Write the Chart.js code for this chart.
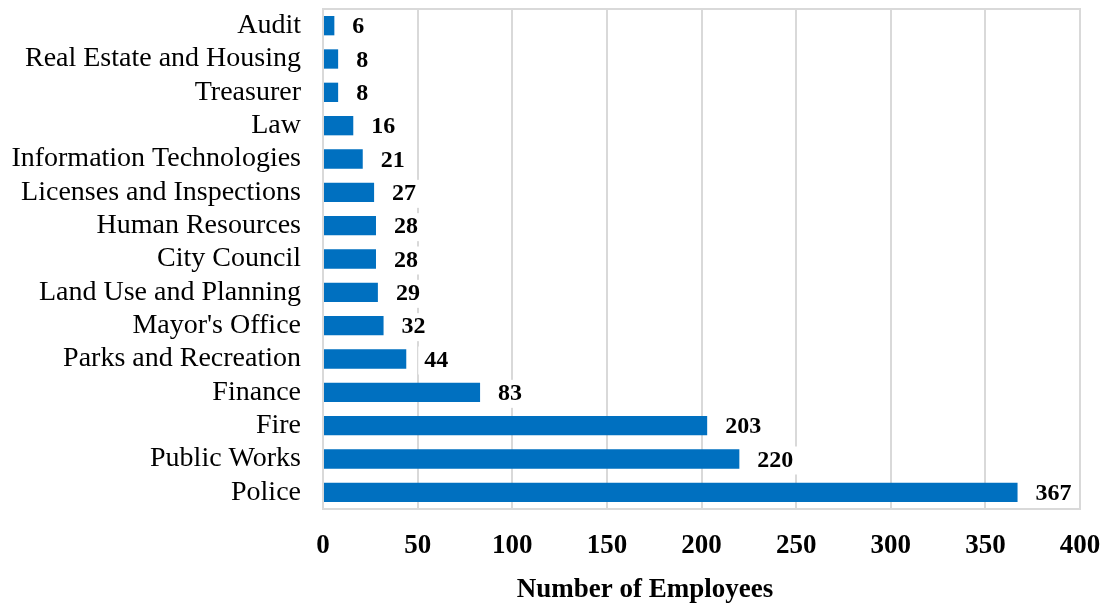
<!DOCTYPE html>
<html>
<head>
<meta charset="utf-8">
<script src="https://cdn.jsdelivr.net/npm/chart.js@4.4.0/dist/chart.umd.min.js"></script>
<style>
  html, body { margin: 0; padding: 0; background: #fff; }
  #wrap { width: 1108px; height: 604px; }
</style>
</head>
<body>
<div id="wrap"><canvas id="chart"></canvas></div>
<script>
const departments = [
  'Audit', 'Real Estate and Housing', 'Treasurer', 'Law', 'Information Technologies',
  'Licenses and Inspections', 'Human Resources', 'City Council', 'Land Use and Planning',
  "Mayor's Office", 'Parks and Recreation', 'Finance', 'Fire', 'Public Works', 'Police'
];
const employees = [6, 8, 8, 16, 21, 27, 28, 28, 29, 32, 44, 83, 203, 220, 367];
const xTicks = [0, 50, 100, 150, 200, 250, 300, 350, 400];
const xTitle = 'Number of Employees';

const FONT = '"Liberation Serif", "Times New Roman", serif';
const GRID = '#d9d9d9';

// value labels, plot frame and axis title (Excel centres it left of the plot middle)
const extras = {
  id: 'extras',
  afterDatasetsDraw(chart) {
    const { ctx, chartArea } = chart;
    ctx.save();

    ctx.font = 'bold 24px ' + FONT;
    ctx.textAlign = 'left';
    ctx.textBaseline = 'middle';
    chart.getDatasetMeta(0).data.forEach((bar, i) => {
      const txt = String(employees[i]);
      const w = ctx.measureText(txt).width;
      const x = bar.x + 18, y = bar.y + 1.5;
      // label box hides the gridlines behind it, like Excel
      ctx.fillStyle = '#fff';
      ctx.fillRect(x - 6, y - 14, w + 12, 28);
      ctx.fillStyle = '#000';
      ctx.fillText(txt, x, y);
    });

    ctx.strokeStyle = GRID;
    ctx.lineWidth = 2;
    ctx.strokeRect(chartArea.left, chartArea.top, chartArea.right - chartArea.left, chartArea.bottom - chartArea.top);

    ctx.fillStyle = '#000';
    ctx.font = 'bold 27px ' + FONT;
    ctx.textAlign = 'center';
    ctx.fillText(xTitle, 645, 590);
    ctx.restore();
  }
};

new Chart(document.getElementById('chart'), {
  type: 'bar',
  data: {
    labels: departments,
    datasets: [{
      data: employees,
      backgroundColor: '#0070c0',
      borderWidth: 0,
      barPercentage: 0.58,
      categoryPercentage: 1
    }]
  },
  options: {
    indexAxis: 'y',
    responsive: true,
    maintainAspectRatio: false,
    animation: false,
    layout: { padding: { top: 9, right: 28, left: 0, bottom: 0 } },
    plugins: { legend: { display: false }, tooltip: { enabled: false } },
    scales: {
      x: {
        min: 0,
        max: 400,
        afterBuildTicks: scale => { scale.ticks = xTicks.map(v => ({ value: v })); },
        afterFit: scale => { scale.height = 95; scale.paddingLeft = 0; scale.paddingRight = 0; },
        grid: { color: GRID, lineWidth: 2, drawTicks: false },
        border: { display: false },
        ticks: { color: '#000', padding: 21, maxRotation: 0, font: { family: FONT, size: 27, weight: 'bold' } }
      },
      y: {
        afterFit: scale => { scale.width = 323; scale.paddingTop = 0; scale.paddingBottom = 0; },
        grid: { display: false, drawTicks: false },
        border: { display: false },
        ticks: { color: '#000', padding: 22, autoSkip: false, font: { family: FONT, size: 28 } }
      }
    }
  },
  plugins: [extras]
});
</script>
</body>
</html>
